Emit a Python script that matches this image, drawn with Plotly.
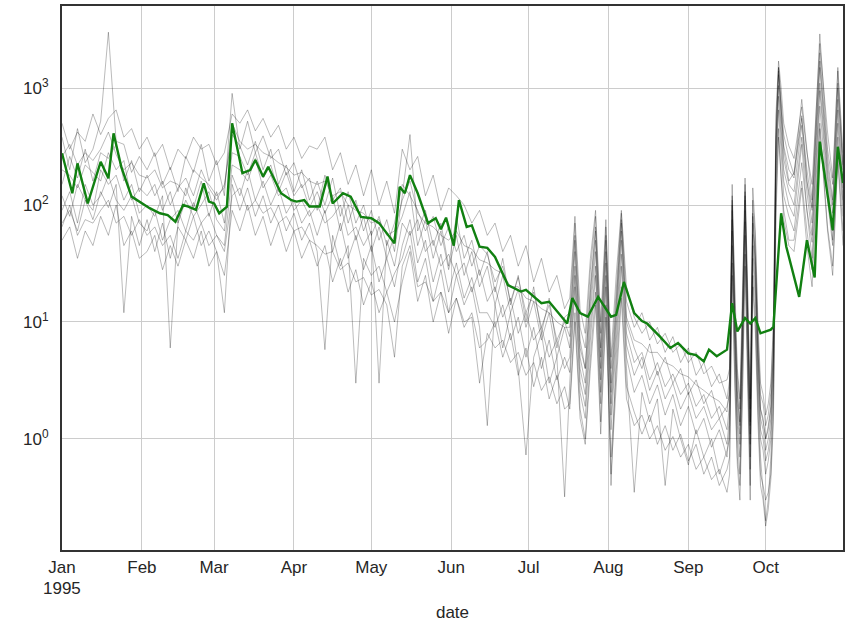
import datetime as dt
import plotly.graph_objects as go

# ---------------- data ----------------
START = dt.date(1995, 1, 1)

# day offsets (from 1995-01-01) at which the ensemble members were read
DAY_SEG_A = list(range(0, 196, 3))      # Jan 1 .. Jul 15 (66)
DAY_SEG_B = list(range(197, 220, 2))    # Jul 17 .. Aug 8 (12)
DAY_SEG_C = list(range(222, 259, 3))    # Aug 11 .. Sep 16 (13)
DAY_SEG_D = list(range(259, 281))       # Sep 17 .. Oct 8 (22)
DAY_SEG_E = [282, 284, 287, 289, 291, 294, 297, 299, 301, 303]  # Oct 10 .. Oct 31
DAYS = DAY_SEG_A + DAY_SEG_B + DAY_SEG_C + DAY_SEG_D + DAY_SEG_E

member_1 = [380, 200, 450, 230, 300, 520, 3000, 350, 330, 190, 260,
            200, 280, 150, 210, 130, 260, 190, 330, 160, 240, 120,
            900, 300, 520, 280, 390, 250, 300, 180, 230, 140, 170,
            90, 180, 110, 140, 70, 110, 60, 90, 50, 75, 40,
            120, 400, 60, 90, 45, 70, 30, 80, 35, 50, 25,
            40, 18, 35, 14, 25, 10, 20, 8, 16, 6, 11,
            12, 70, 9, 6, 28, 80, 8, 65, 4, 20, 85, 15,
            9, 12, 7, 9, 5.5, 7.5, 4.5, 6, 3.5, 4.5, 2.8, 3.6, 2.2,
            3.2, 150, 16, 3.5, 1.8, 13, 170, 17, 1.8, 110, 50, 8, 2.4, 2, 1.3, 1.6, 2.5, 9, 500, 1500, 800, 400,
            250, 180, 800, 300, 110, 2900, 300, 150, 1400, 220]
member_2 = [70, 90, 60, 110, 75, 130, 95, 150, 12, 80, 45,
            75, 40, 70, 35, 65, 50, 80, 45, 60, 40, 12,
            150, 90, 140, 80, 120, 70, 100, 60, 85, 50, 70,
            40, 5.8, 55, 30, 45, 3, 35, 25, 30, 18, 26,
            35, 60, 22, 35, 15, 28, 12, 25, 14, 20, 9,
            1.3, 14, 6, 12, 4, 0.73, 5, 8, 3, 5, 0.32,
            3, 20, 2.5, 1.5, 7, 25, 2, 20, 0.4, 5, 30, 4,
            0.35, 2.5, 1.4, 2.2, 0.4, 1.8, 1, 0.6, 1.2, 0.7, 1, 0.5, 0.8,
            1, 45, 5, 1, 0.5, 4, 55, 5, 0.55, 35, 15, 2.5, 0.7, 0.35, 0.2, 0.3, 0.7, 2.5, 150, 650, 250, 120,
            80, 60, 230, 90, 35, 700, 110, 45, 380, 80]
member_3 = [150, 260, 170, 300, 160, 280, 250, 330, 160, 240, 130,
            180, 120, 160, 100, 140, 170, 120, 200, 140, 110, 150,
            400, 320, 220, 350, 200, 300, 150, 220, 130, 200, 110,
            160, 100, 170, 80, 130, 70, 100, 55, 80, 45, 70,
            150, 120, 90, 60, 80, 45, 65, 40, 55, 30, 45,
            38, 22, 30, 15, 24, 12, 18, 9, 14, 7, 10,
            7.5, 50, 6, 4, 18, 60, 5, 50, 2.5, 12, 70, 10,
            6, 4, 6.5, 3.5, 5, 3, 4, 2.4, 3.2, 2, 2.6, 1.5, 1.9,
            2.4, 110, 12, 2.4, 1.3, 10, 130, 12, 1.3, 85, 36, 6, 1.8, 1.4, 1, 1.2, 1.8, 6, 360, 1500, 600, 300,
            160, 190, 580, 160, 90, 1700, 220, 100, 1000, 200]
member_4 = [120, 80, 150, 110, 90, 200, 150, 180, 110, 150, 85,
            100, 80, 120, 6, 70, 110, 80, 100, 130, 75, 60,
            220, 200, 160, 250, 140, 180, 120, 140, 90, 110, 80,
            100, 70, 80, 100, 55, 65, 45, 60, 3, 50, 30,
            70, 55, 75, 40, 50, 30, 38, 25, 32, 18, 28,
            15, 20, 11, 16, 8, 12, 7, 9, 5, 7, 4,
            5, 30, 4, 2.4, 12, 40, 3.2, 32, 1.6, 8, 50, 6.4,
            3.5, 5, 2.6, 3.8, 2.2, 3, 1.8, 2.5, 1.5, 1.9, 1.2, 1.5, 0.9,
            1.6, 75, 8, 1.6, 0.9, 6.4, 90, 8, 0.9, 56, 24, 4, 1.2, 1, 0.65, 0.8, 1.2, 4, 240, 1050, 400, 200,
            130, 100, 380, 130, 55, 1100, 170, 60, 650, 110]
member_5 = [500, 300, 420, 350, 600, 400, 550, 650, 380, 450, 300,
            380, 260, 330, 200, 300, 250, 380, 300, 330, 220, 280,
            600, 500, 650, 430, 550, 380, 480, 300, 380, 250, 320,
            300, 380, 200, 280, 150, 220, 120, 200, 100, 160, 85,
            300, 200, 260, 120, 180, 90, 140, 120, 100, 70, 90,
            55, 70, 40, 55, 30, 45, 22, 35, 18, 25, 13,
            16, 80, 13, 8, 35, 90, 10, 75, 5, 25, 90, 20,
            11, 8, 10, 6.5, 8, 5.5, 6.5, 4.5, 5.5, 3.6, 4.2, 3, 3.2,
            4, 120, 20, 4, 2.2, 16, 150, 20, 2.2, 140, 60, 10, 3, 2.4, 1.6, 2, 3, 10, 600, 1700, 1000, 500,
            320, 250, 690, 280, 150, 2400, 420, 170, 1500, 280]
member_6 = [50, 65, 35, 60, 45, 80, 55, 100, 45, 60, 35,
            40, 55, 28, 45, 30, 50, 35, 60, 30, 40, 25,
            90, 60, 100, 55, 80, 45, 70, 40, 60, 35, 50,
            30, 45, 22, 35, 18, 28, 14, 22, 12, 18, 10,
            22, 40, 15, 25, 10, 18, 8, 16, 9, 12, 6,
            7, 10, 5, 8, 3.5, 6, 2.8, 5, 2.2, 3.5, 1.8,
            2, 12, 1.8, 1, 5, 18, 1.4, 14, 0.7, 3.5, 20, 2.8,
            1.7, 1.1, 1.6, 0.9, 1.3, 0.8, 1.1, 0.65, 0.9, 0.5, 0.7, 0.4, 0.55,
            0.7, 32, 3.5, 0.7, 0.4, 2.8, 38, 3.5, 0.4, 25, 10, 1.8, 0.5, 0.4, 0.3, 0.35, 0.5, 1.8, 105, 450, 175, 90,
            50, 50, 160, 60, 28, 500, 65, 30, 260, 60]
member_7 = [200, 180, 140, 220, 190, 160, 280, 200, 240, 110, 140,
            120, 150, 90, 130, 70, 140, 95, 160, 80, 130, 70,
            280, 260, 180, 280, 170, 220, 130, 190, 120, 150, 95,
            130, 85, 120, 60, 100, 50, 80, 40, 65, 35, 55,
            80, 130, 45, 75, 35, 60, 28, 55, 25, 40, 20,
            30, 14, 25, 12, 19, 9, 15, 7, 12, 5, 9,
            6, 40, 5, 3, 15, 50, 4, 40, 2, 10, 60, 8,
            4.5, 5.5, 3.2, 4.5, 2.8, 3.6, 2.4, 3, 1.9, 2.4, 1.5, 1.9, 1.2,
            2, 90, 10, 2, 1.1, 8, 110, 10, 1.1, 70, 30, 5, 1.5, 1.2, 0.8, 1, 1.5, 5, 300, 1300, 500, 250,
            150, 130, 480, 160, 70, 1500, 190, 85, 800, 140]
member_8 = [90, 130, 70, 150, 100, 120, 180, 110, 90, 120, 70,
            60, 90, 50, 75, 90, 60, 105, 70, 85, 55, 45,
            180, 120, 200, 110, 160, 100, 140, 85, 110, 70, 90,
            55, 90, 40, 70, 35, 55, 28, 45, 22, 35, 20,
            45, 75, 32, 50, 22, 38, 18, 32, 16, 24, 12,
            12, 9, 14, 7, 11, 5, 9, 4, 7, 3.2, 5,
            3.7, 25, 3.1, 1.9, 9, 30, 2.5, 25, 1.2, 6, 38, 5,
            2.5, 3.5, 2, 2.9, 1.6, 2.4, 1.3, 1.9, 1.1, 1.5, 0.85, 1.2, 0.7,
            1.3, 60, 6.5, 1.3, 0.7, 5.2, 72, 6.5, 0.7, 45, 20, 3.2, 1, 0.8, 0.5, 0.65, 1, 3.2, 200, 850, 330, 160,
            100, 80, 330, 90, 48, 950, 140, 50, 500, 100]
member_9 = [260, 330, 220, 280, 240, 300, 420, 270, 200, 230, 180,
            170, 200, 140, 160, 150, 120, 200, 170, 150, 120, 140,
            500, 350, 300, 330, 280, 260, 230, 210, 180, 190, 160,
            150, 160, 120, 130, 100, 90, 85, 70, 75, 55, 60,
            110, 160, 85, 70, 65, 55, 50, 60, 45, 42, 34,
            32, 28, 26, 20, 20, 16, 15, 13, 12, 10, 9,
            9, 55, 7, 4, 20, 65, 6, 55, 3, 14, 75, 11,
            7, 6.5, 5.5, 5.5, 4.5, 4.2, 3.6, 3.4, 2.9, 2.6, 2.3, 2.1, 1.7,
            2.8, 100, 12, 2.6, 1.4, 9, 120, 12, 1.4, 80, 34, 6, 1.8, 1.5, 1, 1.3, 1.9, 6, 380, 1400, 650, 320,
            200, 170, 550, 200, 95, 2000, 260, 110, 1100, 200]
member_10 = [65, 100, 55, 75, 70, 90, 110, 70, 80, 55, 75,
             55, 65, 45, 55, 35, 60, 50, 70, 45, 55, 40,
             120, 140, 90, 110, 85, 95, 70, 80, 60, 65, 50,
             45, 38, 40, 28, 32, 22, 24, 17, 19, 14, 5,
             30, 45, 20, 22, 15, 18, 12, 16, 10, 11, 3,
             8, 6, 7, 4.5, 5.5, 3.5, 4.5, 2.6, 3.4, 2, 2.8,
             1.8, 10, 1.5, 0.9, 4, 14, 1.1, 11, 0.5, 2.6, 16, 2.2,
             1.3, 1.6, 1, 1.3, 0.8, 1.05, 0.7, 0.9, 0.55, 0.7, 0.45, 0.55, 0.35,
             0.5, 25, 3, 0.6, 0.3, 2.2, 30, 3, 0.3, 20, 8, 1.4, 0.4, 0.3, 0.18, 0.25, 0.45, 1.4, 80, 380, 150, 75,
             45, 40, 140, 45, 20, 450, 60, 25, 240, 45]
MEMBERS = [member_1, member_2, member_3, member_4, member_5,
           member_6, member_7, member_8, member_9, member_10]

# highlighted (green) series: dates and values
GREEN_DATES = ["1995-01-01", "1995-01-05", "1995-01-07", "1995-01-11", "1995-01-16", "1995-01-19",
               "1995-01-21", "1995-01-24", "1995-01-28", "1995-01-31", "1995-02-04", "1995-02-08",
               "1995-02-11", "1995-02-14", "1995-02-17", "1995-02-19", "1995-02-22", "1995-02-25",
               "1995-02-27", "1995-03-01", "1995-03-03", "1995-03-06", "1995-03-08", "1995-03-12",
               "1995-03-15", "1995-03-17", "1995-03-20", "1995-03-22", "1995-03-27", "1995-03-31",
               "1995-04-02", "1995-04-05", "1995-04-07", "1995-04-11", "1995-04-14", "1995-04-16",
               "1995-04-20", "1995-04-23", "1995-04-27", "1995-05-01", "1995-05-04", "1995-05-10",
               "1995-05-12", "1995-05-14", "1995-05-16", "1995-05-19", "1995-05-23", "1995-05-26",
               "1995-05-28", "1995-05-30", "1995-06-02", "1995-06-04", "1995-06-07", "1995-06-09",
               "1995-06-12", "1995-06-15", "1995-06-18", "1995-06-23", "1995-06-28", "1995-06-30",
               "1995-07-06", "1995-07-09", "1995-07-11", "1995-07-16", "1995-07-18", "1995-07-21",
               "1995-07-24", "1995-07-28", "1995-08-02", "1995-08-04", "1995-08-07", "1995-08-11",
               "1995-08-14", "1995-08-16", "1995-08-21", "1995-08-25", "1995-08-28", "1995-09-01",
               "1995-09-04", "1995-09-07", "1995-09-09", "1995-09-12", "1995-09-16", "1995-09-18",
               "1995-09-20", "1995-09-23", "1995-09-25", "1995-09-27", "1995-09-29", "1995-10-03",
               "1995-10-04", "1995-10-07", "1995-10-09", "1995-10-14", "1995-10-17", "1995-10-20",
               "1995-10-22", "1995-10-27", "1995-10-29", "1995-10-31"]
GREEN_VALUES = [277, 126, 227, 103, 234, 169,
                410, 212, 118, 107, 94, 85,
                82, 72, 100, 97, 91, 153,
                107, 103, 85, 97, 499, 187,
                199, 242, 175, 212, 126, 110,
                107, 110, 97, 97, 175, 103,
                126, 118, 79, 77, 70, 47,
                143, 126, 180, 126, 70, 77,
                62, 78, 45, 110, 65, 67,
                44, 43, 36, 20.7, 18.2, 18.8,
                14.5, 14.9, 13.1, 9.7, 16, 11.9,
                11.1, 16.4, 11.1, 11.5, 22, 11.9,
                10.2, 9.7, 7.5, 6.0, 6.6, 5.4,
                5.2, 4.6, 5.8, 5.1, 5.8, 14.5,
                8.3, 10.8, 9.7, 10.8, 8.0, 8.6,
                9.1, 85, 44, 16.4, 50, 24,
                348, 61, 315, 154]

MONTH_TICKS = ["1995-01-01", "1995-02-01", "1995-03-01", "1995-04-01", "1995-05-01",
               "1995-06-01", "1995-07-01", "1995-08-01", "1995-09-01", "1995-10-01"]
MONTH_LABELS = ["Jan", "Feb", "Mar", "Apr", "May", "Jun", "Jul", "Aug", "Sep", "Oct"]
YEAR_LABEL = "1995"
Y_TICKS = [1, 10, 100, 1000]
Y_LABELS = ["10<sup>0</sup>", "10<sup>1</sup>", "10<sup>2</sup>", "10<sup>3</sup>"]

# ---------------- figure ----------------
dates = [START + dt.timedelta(days=d) for d in DAYS]

fig = go.Figure()
for vals in MEMBERS:
    if len(vals) != len(dates):
        raise ValueError(f"length mismatch {len(vals)} vs {len(dates)}")
    fig.add_trace(go.Scatter(x=dates, y=vals, mode="lines",
                             line=dict(color="rgba(0,0,0,0.34)", width=0.8),
                             showlegend=False, hoverinfo="skip"))

fig.add_trace(go.Scatter(x=GREEN_DATES, y=GREEN_VALUES, mode="lines",
                         line=dict(color="#118011", width=2.4),
                         showlegend=False))

FONT = "Liberation Sans, Arial, Helvetica, sans-serif"
TXT = "#262626"

fig.add_annotation(x=MONTH_TICKS[0], xref="x", y=0, yref="paper",
                   text=YEAR_LABEL, showarrow=False,
                   xanchor="center", yanchor="middle", yshift=-38,
                   font=dict(family=FONT, size=17, color=TXT))

fig.update_layout(
    width=856, height=622,
    margin=dict(l=62, r=13, t=6, b=72),
    paper_bgcolor="white", plot_bgcolor="white",
    font=dict(family=FONT, size=17, color=TXT),
    xaxis=dict(
        type="date",
        range=["1995-01-01", "1995-10-31"],
        tickvals=MONTH_TICKS, ticktext=MONTH_LABELS,
        showgrid=True, gridcolor="#cccccc", gridwidth=1,
        showline=True, linecolor="#333333", linewidth=2, mirror=True,
        ticks="", ticklabelstandoff=1,
        zeroline=False,
        title=dict(text="date", standoff=37, font=dict(size=17)),
        automargin=False,
    ),
    yaxis=dict(
        type="log",
        range=[-0.949, 3.701],
        tickvals=Y_TICKS, ticktext=Y_LABELS,
        showgrid=True, gridcolor="#cccccc", gridwidth=1,
        showline=True, linecolor="#333333", linewidth=2, mirror=True,
        ticks="", ticklabelstandoff=8,
        zeroline=False,
        automargin=False,
    ),
)

fig.write_html("out.html")
